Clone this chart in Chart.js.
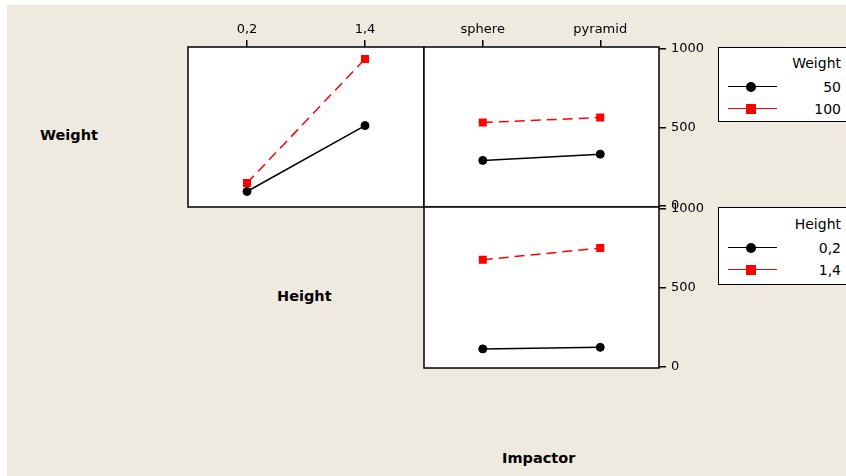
<!DOCTYPE html>
<html>
<head>
<meta charset="utf-8">
<script src="https://cdn.jsdelivr.net/npm/chart.js@4/dist/chart.umd.min.js"></script>
<style>
  html, body { margin: 0; padding: 0; }
  body { width: 846px; height: 476px; position: relative; overflow: hidden; background: #fff;
         font-family: "DejaVu Sans", sans-serif; color: #000; }
  #bg { position: absolute; left: 7px; top: 5px; right: 0; bottom: 0; background: #EEEAE0; }
  canvas { position: absolute; }
  .axis-title { position: absolute; font-weight: bold; font-size: 14.5px; line-height: 18px; white-space: nowrap; }
  .legend { position: absolute; left: 718px; width: 150px; background: #fff; border: 1.5px solid #000; box-sizing: border-box; }
  .lg-text { position: absolute; right: 5px; font-size: 14px; line-height: 18px; text-align: right; white-space: nowrap; }
  .lg-line { position: absolute; left: 728px; width: 49px; height: 0; }
  .lg-mark { position: absolute; }
</style>
</head>
<body>
<div id="bg"></div>

<canvas id="pHeightWeight"></canvas>
<canvas id="pImpactorWeight"></canvas>
<canvas id="pImpactorHeight"></canvas>

<div class="axis-title" style="left:40px; top:126px;">Weight</div>
<div class="axis-title" style="left:277px; top:287px;">Height</div>
<div class="axis-title" style="left:502px; top:449px;">Impactor</div>

<!-- legend: Weight -->
<div class="legend" style="top:47px; height:75px;"></div>
<div class="lg-text" style="top:54px;">Weight</div>
<div class="lg-line" style="top:86px; border-top:1.5px solid #000;"></div>
<div class="lg-mark" style="left:746px; top:82px; width:10px; height:10px; border-radius:50%; background:#000;"></div>
<div class="lg-text" style="top:78px;">50</div>
<div class="lg-line" style="top:108px; border-top:1.5px solid #f00;"></div>
<div class="lg-mark" style="left:746px; top:104px; width:10px; height:10px; background:#f00;"></div>
<div class="lg-text" style="top:100px;">100</div>

<!-- legend: Height -->
<div class="legend" style="top:207px; height:78px;"></div>
<div class="lg-text" style="top:215px;">Height</div>
<div class="lg-line" style="top:247px; border-top:1.5px solid #000;"></div>
<div class="lg-mark" style="left:746px; top:243px; width:10px; height:10px; border-radius:50%; background:#000;"></div>
<div class="lg-text" style="top:239px;">0,2</div>
<div class="lg-line" style="top:269px; border-top:1.5px solid #f00;"></div>
<div class="lg-mark" style="left:746px; top:265px; width:10px; height:10px; background:#f00;"></div>
<div class="lg-text" style="top:261px;">1,4</div>

<script>
// Factor levels
const heightLevels   = ['0,2', '1,4'];
const impactorLevels = ['sphere', 'pyramid'];
const weightLevels   = ['50', '100'];

// Mean responses, Weight traces over Height
const weight50ByHeight  = [91, 511];
const weight100ByHeight = [145, 936];

// Mean responses, Weight traces over Impactor
const weight50ByImpactor  = [289, 329];
const weight100ByImpactor = [531, 562];

// Mean responses, Height traces over Impactor
const height02ByImpactor = [113, 123];
const height14ByImpactor = [678, 752];

// Shared response axis
const yTicks = [0, 500, 1000];
const yMin = -8, yMax = 1012;

const FONT = { family: 'DejaVu Sans', size: 13 };

// White plotting area with a black frame
const panelFrame = {
  id: 'panelFrame',
  beforeDatasetsDraw(chart) {
    const { ctx, chartArea: a } = chart;
    ctx.save();
    ctx.fillStyle = '#fff';
    ctx.fillRect(a.left, a.top, a.right - a.left, a.bottom - a.top);
    ctx.restore();
  },
  afterDatasetsDraw(chart) {
    const { ctx, chartArea: a } = chart;
    ctx.save();
    ctx.strokeStyle = '#000';
    ctx.lineWidth = 1.5;
    ctx.strokeRect(a.left, a.top, a.right - a.left, a.bottom - a.top);
    ctx.restore();
  }
};

function makePanel(id, box, levels, blackSeries, redSeries, showX, showY) {
  // margins large enough to hold half a tick label plus its padding
  const padL = 4, padR = showY ? 0 : 4, padB = 16;
  const padT = showX ? 0 : 16;
  const xAxisH = 37, yAxisW = 50;
  const cw = padL + box.w + (showY ? yAxisW : 0) + padR;
  const ch = padT + (showX ? xAxisH : 0) + box.h + padB;
  const cv = document.getElementById(id);
  cv.width = cw; cv.height = ch;
  cv.style.width = cw + 'px'; cv.style.height = ch + 'px';
  cv.style.left = (box.x - padL) + 'px';
  cv.style.top = (box.y - padT - (showX ? xAxisH : 0)) + 'px';

  return new Chart(cv, {
    type: 'line',
    data: {
      labels: levels,
      datasets: [
        { data: blackSeries, borderColor: '#000', borderWidth: 1.5,
          pointStyle: 'circle', pointRadius: 4, pointBackgroundColor: '#000', pointBorderColor: '#000', pointBorderWidth: 1 },
        { data: redSeries, borderColor: '#f00', borderWidth: 1.5, borderDash: [10, 6],
          pointStyle: 'rect', pointRadius: 5.7, pointBackgroundColor: '#f00', pointBorderColor: '#f00', pointBorderWidth: 0 }
      ]
    },
    options: {
      responsive: false,
      devicePixelRatio: 1,
      animation: false,
      layout: { autoPadding: false, padding: { left: padL, right: padR, top: padT, bottom: padB } },
      plugins: { legend: { display: false }, tooltip: { enabled: false } },
      scales: {
        x: {
          type: 'category',
          offset: true,
          position: 'top',
          display: showX,
          afterFit(s) { if (showX) s.height = xAxisH; },
          border: { display: false },
          grid: { drawOnChartArea: false, drawTicks: true, tickLength: 7, color: '#000', lineWidth: 1.5, offset: false },
          ticks: { color: '#000', font: FONT, padding: 3, maxRotation: 0 }
        },
        y: {
          type: 'linear',
          position: 'right',
          display: showY,
          min: yMin, max: yMax,
          afterBuildTicks(s) { s.ticks = yTicks.map(v => ({ value: v })); },
          afterFit(s) { if (showY) s.width = yAxisW; },
          border: { display: false },
          grid: { drawOnChartArea: false, drawTicks: true, tickLength: 7, color: '#000', lineWidth: 1.5 },
          ticks: { color: '#000', font: FONT, padding: 5, callback: v => String(v) }
        }
      }
    },
    plugins: [panelFrame]
  });
}

makePanel('pHeightWeight',   { x: 188, y: 47,  w: 236, h: 160 }, heightLevels,   weight50ByHeight,   weight100ByHeight,   true,  false);
makePanel('pImpactorWeight', { x: 424, y: 47,  w: 235, h: 160 }, impactorLevels, weight50ByImpactor, weight100ByImpactor, true,  true);
makePanel('pImpactorHeight', { x: 424, y: 207, w: 235, h: 161 }, impactorLevels, height02ByImpactor, height14ByImpactor, false, true);
</script>
</body>
</html>
